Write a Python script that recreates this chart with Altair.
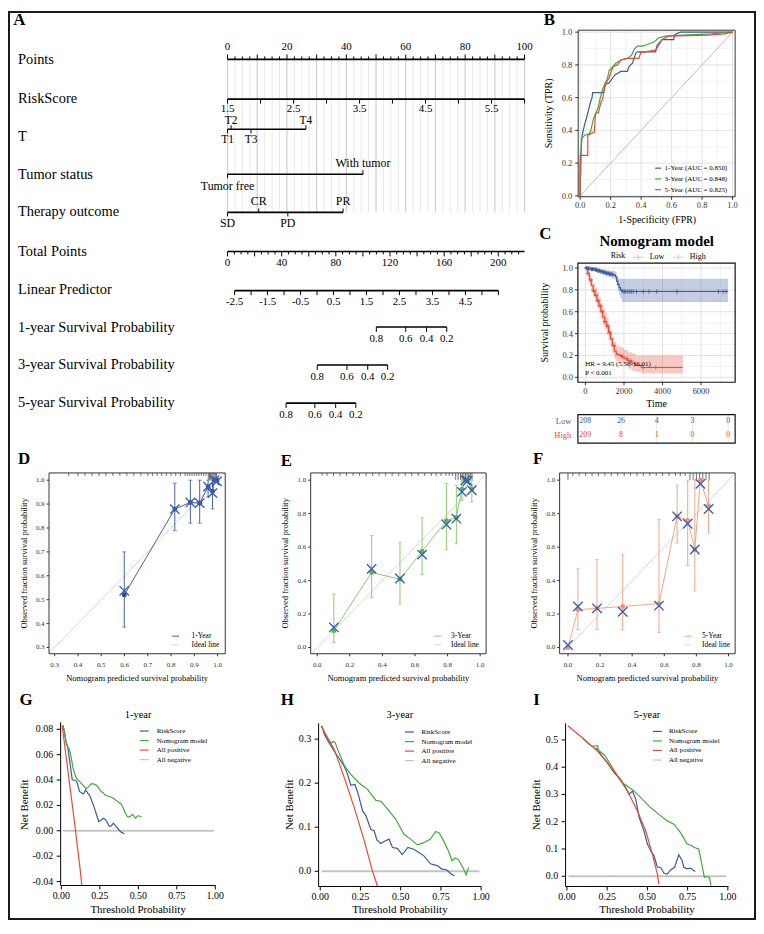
import altair as alt
import pandas as pd

W, H = 753, 915
FONT = "Liberation Serif"
INK = "#000000"
AXC = "#333333"
BLUE = "#3C5A9A"
GREEN = "#43A83B"
RED = "#E64B35"
NEGC = "#C4C4C4"
XCOL = "#3A5FB5"
PLUS = "M-1,0L1,0M0,-1L0,1"
XSHAPE = "M-1,-1L1,1M-1,1L1,-1"
LINECROSS = "M-1,0L1,0M0,-0.45L0,0.45"

ONE = pd.DataFrame({"k": [0]})

# ---------------- data: panel A (nomogram) ----------------
nom_labels = ["Points", "RiskScore", "T", "Tumor status", "Therapy outcome", "Total Points",
              "Linear Predictor", "1-year Survival Probability", "3-year Survival Probability",
              "5-year Survival Probability"]
nom_label_y = [49.3, 88.7, 127.0, 165.3, 202.0, 242.7, 281.0, 318.7, 356.3, 394.3]
nom_line_y = [48.7, 88.7, 119.0, 164.3, 202.7, 242.0, 281.5, 318.0, 356.3, 394.7]

points_major = [0, 10, 20, 30, 40, 50, 60, 70, 80, 90, 100]
points_minor = [v / 2 for v in range(0, 201, 5) if v % 20 != 0]
points_labels = [0, 20, 40, 60, 80, 100]
rs_ticks = [1.5, 2.0, 2.5, 3.0, 3.5, 4.0, 4.5, 5.0, 5.5, 6.0]
rs_labels = ["1.5", "2.5", "3.5", "4.5", "5.5"]
t_levels = ["T1", "T2", "T3", "T4"]
t_points = [0.0, 1.2, 7.9, 26.4]
t_side = [1, -1, 1, -1]
tumor_levels = ["Tumor free", "With tumor"]
tumor_points = [0.0, 45.6]
tumor_side = [1, -1]
therapy_levels = ["SD", "CR", "PD", "PR"]
therapy_points = [0.0, 10.5, 20.3, 38.9]
therapy_side = [1, -1, 1, -1]
tp_max = 219.4
tp_major = [0, 20, 40, 60, 80, 100, 120, 140, 160, 180, 200]
tp_minor = [v for v in range(5, 220, 5) if v % 20 != 0]
tp_labels = ["0", "40", "80", "120", "160", "200"]
lp_ticks = [-2.5, -2.0, -1.5, -1.0, -0.5, 0.0, 0.5, 1.0, 1.5, 2.0, 2.5, 3.0, 3.5, 4.0, 4.5, 5.0, 5.5]
lp_labels = ["-2.5", "-1.5", "-0.5", "0.5", "1.5", "2.5", "3.5", "4.5"]
surv_labels = ["0.8", "0.6", "0.4", "0.2"]
surv1_points = [50.1, 60.0, 67.0, 73.8]
surv3_points = [30.2, 40.2, 47.2, 53.9]
surv5_points = [19.7, 29.4, 36.4, 43.2]

# ---------------- data: panel B (ROC) ----------------
roc_names = ["1-Year (AUC = 0.850)", "3-Year (AUC = 0.848)", "5-Year (AUC = 0.825)"]
roc1_fpr = [0, 0, 0.004, 0.013, 0.028, 0.043, 0.054, 0.067, 0.078, 0.082, 0.154, 0.163, 0.19, 0.213, 0.23,
            0.267, 0.31, 0.32, 0.343, 0.354, 0.364, 0.375, 0.495, 0.505, 0.538, 0.614, 0.62, 0.657, 1.0]
roc1_tpr = [0, 0.17, 0.25, 0.37, 0.43, 0.48, 0.52, 0.57, 0.6, 0.63, 0.63, 0.68, 0.69, 0.72, 0.74,
            0.76, 0.76, 0.79, 0.81, 0.84, 0.87, 0.88, 0.88, 0.92, 0.955, 0.955, 0.985, 1.0, 1.0]
roc3_fpr = [0, 0, 0.004, 0.008, 0.03, 0.06, 0.07, 0.087, 0.1, 0.115, 0.13, 0.147, 0.165, 0.18, 0.19, 0.213,
            0.234, 0.267, 0.31, 0.338, 0.354, 0.375, 0.408, 0.44, 0.484, 0.516, 0.56, 0.668, 0.863, 0.928, 1.0]
roc3_tpr = [0, 0.115, 0.13, 0.35, 0.37, 0.38, 0.4, 0.47, 0.5, 0.53, 0.59, 0.65, 0.69, 0.72, 0.765, 0.79,
            0.81, 0.83, 0.84, 0.86, 0.895, 0.915, 0.915, 0.925, 0.94, 0.966, 0.976, 0.982, 0.99, 0.996, 1.0]
roc5_fpr = [0, 0, 0.05, 0.05, 0.07, 0.093, 0.1, 0.12, 0.136, 0.147, 0.158, 0.17, 0.19, 0.2, 0.217, 0.245,
            0.267, 0.31, 0.386, 0.397, 0.495, 0.516, 0.538, 0.58, 0.84, 0.95, 1.0]
roc5_tpr = [0, 0.247, 0.247, 0.368, 0.38, 0.39, 0.5, 0.51, 0.57, 0.59, 0.65, 0.69, 0.72, 0.75, 0.79, 0.8,
            0.83, 0.84, 0.84, 0.875, 0.89, 0.92, 0.955, 0.976, 0.982, 0.99, 1.0]

# ---------------- data: panel C (KM) ----------------
km_low_t = [0, 150, 300, 450, 600, 750, 900, 1050, 1200, 1350, 1500, 1560, 1620, 1680, 1750, 1820, 1900, 7400]
km_low_s = [1.0, 0.995, 0.99, 0.985, 0.975, 0.968, 0.96, 0.952, 0.945, 0.94, 0.935, 0.92, 0.88, 0.85, 0.82, 0.80, 0.785, 0.785]
km_low_lo = [1.0, 0.985, 0.975, 0.968, 0.955, 0.945, 0.935, 0.925, 0.915, 0.908, 0.9, 0.88, 0.83, 0.79, 0.75, 0.72, 0.69, 0.69]
km_low_hi = [1.0, 1.0, 1.0, 0.998, 0.995, 0.99, 0.985, 0.98, 0.975, 0.972, 0.97, 0.96, 0.93, 0.91, 0.9, 0.9, 0.9, 0.9]
km_high_t = [0, 100, 200, 300, 400, 500, 600, 700, 800, 900, 1000, 1100, 1200, 1300, 1400, 1500, 1600, 1750,
             1900, 2000, 2200, 2400, 2600, 2900, 5050]
km_high_s = [1.0, 0.95, 0.89, 0.84, 0.79, 0.75, 0.70, 0.65, 0.60, 0.55, 0.51, 0.47, 0.41, 0.35, 0.29, 0.24, 0.21, 0.20,
             0.19, 0.17, 0.15, 0.13, 0.11, 0.09, 0.09]
km_high_lo = [1.0, 0.92, 0.85, 0.79, 0.74, 0.69, 0.64, 0.59, 0.53, 0.48, 0.44, 0.39, 0.34, 0.28, 0.22, 0.17, 0.15, 0.13,
              0.12, 0.11, 0.08, 0.06, 0.05, 0.035, 0.035]
km_high_hi = [1.0, 0.98, 0.94, 0.9, 0.86, 0.82, 0.78, 0.73, 0.68, 0.63, 0.59, 0.55, 0.49, 0.43, 0.37, 0.32, 0.29, 0.28,
              0.27, 0.25, 0.23, 0.22, 0.2, 0.2, 0.2]
cens_low_t = [40, 90, 160, 230, 310, 370, 440, 520, 580, 650, 720, 800, 870, 950, 1020, 1100, 1180, 1260, 1330, 1420,
              1950, 2020, 2100, 2200, 2300, 2380, 2480, 2650, 3000, 3300, 3700, 4750, 6900, 7150, 7300]
cens_high_t = [130, 280, 420, 540, 660, 780, 880, 1000, 1130, 1250, 1480, 1900, 2150, 2350, 3000, 3650]
tab_t = [0, 2000, 4000, 6000, 8000]
tab_low = [208, 26, 4, 3, 0]
tab_high = [209, 8, 1, 0, 0]

# ---------------- data: panels D/E/F (calibration) ----------------
d_pred = [0.599, 0.816, 0.883, 0.923, 0.959, 0.978, 0.987, 0.997]
d_obs = [0.52, 0.879, 0.907, 0.904, 0.973, 0.953, 1.0, 1.0]
d_km = [0.537, 0.879, 0.907, 0.904, 0.973, 0.946, 1.0, 0.995]
d_lo = [0.385, 0.789, 0.82, 0.82, 0.93, 0.88, 1.0, 1.0]
d_hi = [0.70, 0.988, 1.0, 1.0, 1.0, 1.0, 1.0, 1.0]
d_rug_s = [0.36, 0.4, 0.43, 0.46, 0.49, 0.52, 0.55, 0.58, 0.61, 0.64, 0.67, 0.7, 0.72, 0.74, 0.76, 0.78, 0.8,
           0.82, 0.84, 0.86, 0.87, 0.88, 0.89, 0.9, 0.91, 0.92, 0.93, 0.94, 0.95]
d_rug_t = [0.96, 0.965, 0.97, 0.975, 0.98, 0.985, 0.99, 0.995]

e_pred = [0.102, 0.334, 0.508, 0.644, 0.793, 0.854, 0.888, 0.909, 0.923, 0.949]
e_obs = [0.10, 0.448, 0.408, 0.576, 0.758, 0.778, 0.947, 1.0, 1.0, 0.947]
e_km = [0.12, 0.47, 0.412, 0.555, 0.735, 0.77, 0.93, 1.0, 0.995, 0.94]
e_lo = [0.03, 0.30, 0.26, 0.435, 0.585, 0.62, 0.88, 1.0, 1.0, 0.87]
e_hi = [0.32, 0.67, 0.63, 0.775, 0.98, 0.97, 1.0, 1.0, 1.0, 1.0]
e_rug_s = [0.03, 0.06, 0.1, 0.14, 0.18, 0.22, 0.26, 0.3, 0.34, 0.38, 0.42, 0.46, 0.5, 0.54, 0.58, 0.62, 0.66,
           0.7, 0.73, 0.76, 0.79, 0.81, 0.83]
e_rug_t = [0.85, 0.865, 0.88, 0.89, 0.9, 0.91, 0.92, 0.93, 0.94, 0.95]

f_pred = [0.0, 0.062, 0.181, 0.341, 0.567, 0.68, 0.746, 0.79, 0.825, 0.876]
f_obs = [0.0, 0.226, 0.234, 0.245, 0.263, 0.784, 0.76, 0.586, 1.0, 0.848]
f_km = [0.015, 0.245, 0.234, 0.214, 0.25, 0.784, 0.74, 0.586, 0.978, 0.828]
f_lo = [0.0, 0.107, 0.107, 0.107, 0.09, 0.625, 0.49, 0.338, 1.0, 0.685]
f_hi = [0.0, 0.47, 0.525, 0.555, 0.766, 0.97, 1.0, 1.0, 1.0, 1.0]
f_rug_s = [0.03, 0.07, 0.11, 0.15, 0.19, 0.23, 0.27, 0.31, 0.35, 0.39, 0.43, 0.47, 0.51, 0.55, 0.59, 0.63,
           0.67, 0.7, 0.73]
f_rug_t = [0.0, 0.76, 0.78, 0.8, 0.82, 0.84, 0.86, 0.88]

# ---------------- data: panels G/H/I (DCA) ----------------
g_rs_t = [0.01, 0.017, 0.03, 0.043, 0.06, 0.071, 0.085, 0.1, 0.118, 0.13, 0.144, 0.157, 0.17, 0.187, 0.209, 0.225,
          0.243, 0.26, 0.273, 0.285, 0.295, 0.312, 0.325, 0.338, 0.35, 0.366, 0.387, 0.409]
g_rs_nb = [0.083, 0.08, 0.07, 0.065, 0.05, 0.04, 0.04, 0.039, 0.031, 0.03, 0.029, 0.032, 0.03, 0.027, 0.02, 0.014,
           0.0073, 0.0085, 0.0099, 0.009, 0.0073, 0.0034, 0.004, 0.006, 0.004, 0.002, -0.001, -0.0023]
g_nm_t = [0.011, 0.02, 0.03, 0.043, 0.055, 0.065, 0.075, 0.086, 0.1, 0.118, 0.14, 0.161, 0.178, 0.194, 0.21, 0.226,
          0.242, 0.258, 0.272, 0.286, 0.31, 0.333, 0.355, 0.376, 0.39, 0.402, 0.415, 0.43, 0.445, 0.462, 0.47,
          0.48, 0.49, 0.5, 0.51, 0.52]
g_nm_nb = [0.083, 0.078, 0.07, 0.066, 0.063, 0.057, 0.05, 0.045, 0.041, 0.039, 0.036, 0.033, 0.035, 0.037, 0.037,
           0.036, 0.034, 0.031, 0.03, 0.028, 0.027, 0.026, 0.024, 0.022, 0.021, 0.018, 0.014, 0.011, 0.011, 0.013,
           0.012, 0.01, 0.011, 0.012, 0.0115, 0.011]
g_all_t = [0.005, 0.04, 0.08, 0.1, 0.12, 0.133]
g_all_nb = [0.083, 0.05, 0.012, -0.008, -0.028, -0.043]
neg_t = [0.01, 0.99]
neg_nb = [0.0, 0.0]

h_rs_t = [0.01, 0.027, 0.05, 0.088, 0.12, 0.15, 0.17, 0.19, 0.216, 0.237, 0.263, 0.284, 0.315, 0.335, 0.352, 0.377,
          0.4, 0.428, 0.449, 0.479, 0.51, 0.545, 0.582, 0.615, 0.644, 0.685, 0.726, 0.757, 0.788, 0.809, 0.833]
h_rs_nb = [0.33, 0.31, 0.295, 0.272, 0.255, 0.238, 0.22, 0.195, 0.197, 0.174, 0.137, 0.126, 0.095, 0.092, 0.071,
           0.063, 0.068, 0.073, 0.054, 0.052, 0.038, 0.054, 0.05, 0.042, 0.035, 0.017, 0.013, 0.005, 0.003, -0.005, -0.01]
h_nm_t = [0.01, 0.027, 0.05, 0.068, 0.08, 0.093, 0.11, 0.13, 0.15, 0.19, 0.243, 0.294, 0.346, 0.377, 0.428, 0.469,
          0.521, 0.562, 0.603, 0.644, 0.685, 0.716, 0.737, 0.767, 0.798, 0.819, 0.84, 0.86, 0.891, 0.907, 0.922]
h_nm_nb = [0.33, 0.313, 0.3, 0.291, 0.295, 0.292, 0.275, 0.257, 0.24, 0.22, 0.2, 0.186, 0.161, 0.159, 0.137, 0.118,
           0.084, 0.073, 0.06, 0.065, 0.073, 0.09, 0.088, 0.069, 0.045, 0.024, 0.03, 0.026, 0.005, -0.008, 0.009]
h_all_t = [0.006, 0.05, 0.088, 0.15, 0.212, 0.274, 0.325, 0.356]
h_all_nb = [0.33, 0.3, 0.276, 0.212, 0.144, 0.069, 0.0, -0.034]

i_rs_t = [0.17, 0.191, 0.212, 0.253, 0.294, 0.335, 0.366, 0.387, 0.407, 0.428, 0.449, 0.479, 0.5, 0.521, 0.541,
          0.562, 0.582, 0.603, 0.623, 0.644, 0.669, 0.695, 0.716, 0.726, 0.747, 0.767, 0.788, 0.798]
i_rs_nb = [0.47, 0.465, 0.445, 0.415, 0.379, 0.354, 0.324, 0.3, 0.312, 0.282, 0.215, 0.166, 0.118, 0.093, 0.075,
           0.033, 0.033, 0.011, 0.008, 0.023, 0.033, 0.079, 0.057, 0.033, 0.027, 0.03, 0.021, 0.018]
i_nm_t = [0.099, 0.134, 0.16, 0.191, 0.195, 0.233, 0.274, 0.315, 0.346, 0.377, 0.418, 0.469, 0.521, 0.572, 0.623,
          0.665, 0.706, 0.747, 0.778, 0.788, 0.819, 0.84, 0.854, 0.87, 0.887, 0.895]
i_nm_nb = [0.506, 0.485, 0.476, 0.479, 0.462, 0.445, 0.407, 0.367, 0.342, 0.33, 0.312, 0.282, 0.251, 0.227, 0.203,
           0.191, 0.16, 0.118, 0.112, 0.106, 0.1, 0.039, -0.004, -0.001, -0.006, -0.034]
i_all_t = [0.006, 0.099, 0.191, 0.253, 0.315, 0.377, 0.438, 0.49, 0.531, 0.562, 0.572]
i_all_nb = [0.552, 0.506, 0.458, 0.415, 0.367, 0.312, 0.239, 0.166, 0.081, 0.008, -0.03]


# ---------------- helpers ----------------
def S(dom, rng):
    return alt.Scale(domain=list(dom), range=list(rng), nice=False, zero=False)


def Xq(f, sc):
    return alt.X(f, scale=sc, axis=None)


def Yq(f, sc):
    return alt.Y(f, scale=sc, axis=None)


def text_at(s, x, y, size, bold=False, align="center", angle=None, color=INK):
    kw = dict(text=s, font=FONT, fontSize=size, align=align, baseline="middle", color=color)
    if bold:
        kw["fontWeight"] = "bold"
    if angle is not None:
        kw["angle"] = angle
    return alt.Chart(ONE).mark_text(**kw).encode(x=alt.value(x), y=alt.value(y))


def frame(l, t, r, b, color="#222222", width=1.0):
    return alt.Chart(ONE).mark_rect(fillOpacity=0, stroke=color, strokeWidth=width).encode(
        x=alt.value(l), x2=alt.value(r), y=alt.value(t), y2=alt.value(b))


def hline(l, r, y, color=INK, width=1.0):
    return alt.Chart(ONE).mark_rule(color=color, strokeWidth=width).encode(
        x=alt.value(l), x2=alt.value(r), y=alt.value(y))


def vline(x, t, b, color=INK, width=1.0):
    return alt.Chart(ONE).mark_rule(color=color, strokeWidth=width).encode(
        x=alt.value(x), y=alt.value(t), y2=alt.value(b))


def axis_x(sc, vals, labs, ybot, size, color=AXC, tick=3, pad=2):
    df = pd.DataFrame({"v": vals, "t": labs})
    return [
        alt.Chart(df).mark_rule(color=color, strokeWidth=1).encode(
            x=Xq("v:Q", sc), y=alt.value(ybot), y2=alt.value(ybot + tick)),
        alt.Chart(df).mark_text(font=FONT, fontSize=size, color=color, baseline="top", align="center").encode(
            x=Xq("v:Q", sc), y=alt.value(ybot + tick + pad), text="t:N"),
    ]


def axis_y(sc, vals, labs, xleft, size, color=AXC, tick=3, pad=2):
    df = pd.DataFrame({"v": vals, "t": labs})
    return [
        alt.Chart(df).mark_rule(color=color, strokeWidth=1).encode(
            y=Yq("v:Q", sc), x=alt.value(xleft - tick), x2=alt.value(xleft)),
        alt.Chart(df).mark_text(font=FONT, fontSize=size, color=color, baseline="middle", align="right").encode(
            y=Yq("v:Q", sc), x=alt.value(xleft - tick - pad), text="t:N"),
    ]


def line_legend(x, y, size, sym, offset, rowpad, stroke=1.0):
    return alt.Legend(orient="none", legendX=x, legendY=y, title=None, symbolType="stroke",
                      symbolSize=sym, symbolStrokeWidth=stroke, labelFont=FONT, labelFontSize=size,
                      labelColor=INK, labelOffset=offset, rowPadding=rowpad, padding=0)


layers = [frame(1, 1, W - 1, H - 1, "#1a1a1a", 2)]

# ---------------- Panel A ----------------
X0, X1 = 221.0, 520.0
pts_sc = S([0, 100], [X0, X1])


def nom_row(y, sc, lo, hi, ticks, labels, lab_size, gap=11.5, gap_up=None, extra=None):
    parts = list(extra or [])
    parts.append(alt.Chart(pd.DataFrame({"a": [lo], "b": [hi]})).mark_rule(color=INK, strokeWidth=1.6)
                 .encode(x=Xq("a:Q", sc), x2=alt.X2("b"), y=alt.value(y)))
    for d in sorted(set(tk[1] for tk in ticks)):
        vs = [tk[0] for tk in ticks if tk[1] == d]
        parts.append(alt.Chart(pd.DataFrame({"v": vs})).mark_rule(color=INK, strokeWidth=1)
                     .encode(x=Xq("v:Q", sc), y=alt.value(y), y2=alt.value(y + d)))
    for side in (-1, 1):
        sub = [(v, t) for v, t, s in labels if s == side]
        if sub:
            g = gap if (side == 1 or gap_up is None) else gap_up
            df = pd.DataFrame({"v": [a for a, _ in sub], "t": [b for _, b in sub]})
            parts.append(alt.Chart(df).mark_text(font=FONT, fontSize=lab_size, baseline="middle",
                                                 align="center", dy=side * g, color=INK)
                         .encode(x=Xq("v:Q", sc), y=alt.value(y), text="t:N"))
    return alt.layer(*parts)


grid_a = [
    alt.Chart(pd.DataFrame({"v": points_minor})).mark_rule(color="#E8E8E8", strokeWidth=1)
    .encode(x=Xq("v:Q", pts_sc), y=alt.value(nom_line_y[0]), y2=alt.value(nom_line_y[4])),
    alt.Chart(pd.DataFrame({"v": points_major})).mark_rule(color="#CFCFCF", strokeWidth=1.2)
    .encode(x=Xq("v:Q", pts_sc), y=alt.value(nom_line_y[0]), y2=alt.value(nom_line_y[4])),
]
layers.append(nom_row(nom_line_y[0], pts_sc, 0, 100,
                      [(v, -5) for v in points_major] + [(v, -3) for v in points_minor],
                      [(v, str(v), -1) for v in points_labels], 11, 12, extra=grid_a))
rs_sc = S([1.5, 6.0], [X0, X1])
layers.append(nom_row(nom_line_y[1], rs_sc, 1.5, 6.0, [(v, 4.5) for v in rs_ticks],
                      [(float(s), s, 1) for s in rs_labels], 11, 9.5))
layers.append(nom_row(nom_line_y[2], pts_sc, 0, max(t_points),
                      [(p, 4 * s) for p, s in zip(t_points, t_side)],
                      [(p, n, s) for p, n, s in zip(t_points, t_levels, t_side)], 11.5, 10.5, gap_up=8))
layers.append(nom_row(nom_line_y[3], pts_sc, 0, max(tumor_points),
                      [(p, 4 * s) for p, s in zip(tumor_points, tumor_side)],
                      [(p, n, s) for p, n, s in zip(tumor_points, tumor_levels, tumor_side)], 12, 11.5))
layers.append(nom_row(nom_line_y[4], pts_sc, 0, max(therapy_points),
                      [(p, 4 * s) for p, s in zip(therapy_points, therapy_side)],
                      [(p, n, s) for p, n, s in zip(therapy_points, therapy_levels, therapy_side)], 12, 11))
tp_sc = S([0, tp_max], [X0, X1])
layers.append(nom_row(nom_line_y[5], tp_sc, 0, tp_max,
                      [(v, 5) for v in tp_major] + [(v, 3) for v in tp_minor],
                      [(float(s), s, 1) for s in tp_labels], 11, 12))
lp_sc = S([-2.5, 5.5], [228.1, 493.7])
layers.append(nom_row(nom_line_y[6], lp_sc, -2.5, 5.5, [(v, 4.5) for v in lp_ticks],
                      [(float(s), s, 1) for s in lp_labels], 11, 11))
for row, pts in ((7, surv1_points), (8, surv3_points), (9, surv5_points)):
    layers.append(nom_row(nom_line_y[row], pts_sc, min(pts), max(pts), [(p, 5) for p in pts],
                          [(p, s, 1) for p, s in zip(pts, surv_labels)], 11, 12))
for lab, y in zip(nom_labels, nom_label_y):
    layers.append(text_at(lab, 10, y, 14.5, align="left"))

# ---------------- Panel B ----------------
b_l, b_t, b_r, b_b = 574.0, 19.3, 732.0, 187.0
bx = S([-0.013, 1.017], [b_l, b_r])
by = S([-0.006, 1.012], [b_b, b_t])
g_major = [0.0, 0.2, 0.4, 0.6, 0.8, 1.0]
g_major_lab = ["0.0", "0.2", "0.4", "0.6", "0.8", "1.0"]
g_minor = [0.1, 0.3, 0.5, 0.7, 0.9]
roc_rows = []
for nm, fp, tp in zip(roc_names, [roc1_fpr, roc3_fpr, roc5_fpr], [roc1_tpr, roc3_tpr, roc5_tpr]):
    for i, (a, b) in enumerate(zip(fp, tp)):
        roc_rows.append({"m": nm, "fpr": a, "tpr": b, "i": i})
roc_df = pd.DataFrame(roc_rows)
layers.append(alt.layer(
    alt.Chart(pd.DataFrame({"v": g_minor})).mark_rule(color="#F0F0F0", strokeWidth=0.8)
    .encode(x=Xq("v:Q", bx), y=alt.value(b_t), y2=alt.value(b_b)),
    alt.Chart(pd.DataFrame({"v": g_major})).mark_rule(color="#E2E2E2", strokeWidth=1)
    .encode(x=Xq("v:Q", bx), y=alt.value(b_t), y2=alt.value(b_b)),
    alt.Chart(pd.DataFrame({"v": g_minor})).mark_rule(color="#F0F0F0", strokeWidth=0.8)
    .encode(y=Yq("v:Q", by), x=alt.value(b_l), x2=alt.value(b_r)),
    alt.Chart(pd.DataFrame({"v": g_major})).mark_rule(color="#E2E2E2", strokeWidth=1)
    .encode(y=Yq("v:Q", by), x=alt.value(b_l), x2=alt.value(b_r)),
    alt.Chart(pd.DataFrame({"x": [0.0, 1.0], "y": [0.0, 1.0]})).mark_line(color="#BDBDBD", strokeWidth=1)
    .encode(x=Xq("x:Q", bx), y=Yq("y:Q", by)),
    alt.Chart(roc_df).mark_line(strokeWidth=1.2).encode(
        x=Xq("fpr:Q", bx), y=Yq("tpr:Q", by),
        color=alt.Color("m:N", scale=alt.Scale(domain=roc_names, range=[BLUE, GREEN, RED]),
                        legend=line_legend(650.5, 154.2, 7, 36, 2.5, 3.8, 1.2)),
        order="i:Q"),
    *axis_x(bx, g_major, g_major_lab, b_b, 8.5, tick=3, pad=1.5),
    *axis_y(by, g_major, g_major_lab, b_l, 8.5, tick=3, pad=3),
))
layers.append(frame(b_l, b_t, b_r, b_b, "#333333", 1))
layers.append(text_at("1-Specificity (FPR)", 653.5, 210.3, 10))
layers.append(text_at("Sensitivity (TPR)", 545, 103, 10, angle=270))

# ---------------- Panel C ----------------
c_l, c_t, c_r, c_b = 573.7, 253.7, 732.0, 373.7
cx = S([-392, 7768], [c_l, c_r])
cy = S([-0.045, 1.045], [c_b, c_t])
km_col = alt.Scale(domain=["Low", "High"], range=[BLUE, RED])
km_leg = alt.Legend(orient="none", legendX=628, legendY=241, title=None, direction="horizontal",
                    symbolType=LINECROSS, symbolSize=121, symbolStrokeWidth=1.1, labelFont=FONT,
                    labelFontSize=8, labelColor=INK, labelOffset=5, columnPadding=5.3, padding=0)


def step_at(ts, ss, t):
    val = ss[0]
    for a, b in zip(ts, ss):
        if a <= t:
            val = b
    return val


km_rows = []
for g, ts, ss, lo, hi in (("Low", km_low_t, km_low_s, km_low_lo, km_low_hi),
                          ("High", km_high_t, km_high_s, km_high_lo, km_high_hi)):
    for a, b, c, d in zip(ts, ss, lo, hi):
        km_rows.append({"g": g, "t": a, "s": b, "lo": c, "hi": d})
km_df = pd.DataFrame(km_rows)
cens_rows = [{"g": "Low", "t": t, "s": step_at(km_low_t, km_low_s, t)} for t in cens_low_t] + \
            [{"g": "High", "t": t, "s": step_at(km_high_t, km_high_s, t)} for t in cens_high_t]
cens_df = pd.DataFrame(cens_rows)
layers.append(alt.layer(
    alt.Chart(pd.DataFrame({"v": [1000, 3000, 5000, 7000]})).mark_rule(color="#F0F0F0", strokeWidth=0.8)
    .encode(x=Xq("v:Q", cx), y=alt.value(c_t), y2=alt.value(c_b)),
    alt.Chart(pd.DataFrame({"v": [0, 2000, 4000, 6000]})).mark_rule(color="#E2E2E2", strokeWidth=1)
    .encode(x=Xq("v:Q", cx), y=alt.value(c_t), y2=alt.value(c_b)),
    alt.Chart(pd.DataFrame({"v": g_minor})).mark_rule(color="#F0F0F0", strokeWidth=0.8)
    .encode(y=Yq("v:Q", cy), x=alt.value(c_l), x2=alt.value(c_r)),
    alt.Chart(pd.DataFrame({"v": g_major})).mark_rule(color="#E2E2E2", strokeWidth=1)
    .encode(y=Yq("v:Q", cy), x=alt.value(c_l), x2=alt.value(c_r)),
    alt.Chart(km_df).mark_area(interpolate="step-after", opacity=0.3).encode(
        x=Xq("t:Q", cx), y=Yq("lo:Q", cy), y2=alt.Y2("hi"),
        color=alt.Color("g:N", scale=km_col, legend=km_leg)),
    alt.Chart(km_df).mark_line(interpolate="step-after", strokeWidth=1.2).encode(
        x=Xq("t:Q", cx), y=Yq("s:Q", cy),
        color=alt.Color("g:N", scale=km_col, legend=km_leg)),
    alt.Chart(cens_df).mark_point(shape=PLUS, filled=False, size=18, strokeWidth=0.9, opacity=1).encode(
        x=Xq("t:Q", cx), y=Yq("s:Q", cy), color=alt.Color("g:N", scale=km_col, legend=km_leg)),
    *axis_x(cx, [0, 2000, 4000, 6000], ["0", "2000", "4000", "6000"], c_b, 8.5, tick=3, pad=2),
    *axis_y(cy, g_major, g_major_lab, c_l, 8.5, tick=3, pad=2),
))
layers.append(frame(c_l, c_t, c_r, c_b, "#111111", 1.2))
layers.append(text_at("Nomogram model", 653, 232, 15, bold=True))
layers.append(text_at("Risk", 614, 247, 8))
layers.append(text_at("HR = 9.45 (5.58-16.01)", 581, 355, 7, align="left"))
layers.append(text_at("P < 0.001", 581, 364.5, 7, align="left"))
layers.append(text_at("Time", 653, 396, 10))
layers.append(text_at("Survival probability", 541, 313.7, 10, angle=270))

# risk table
tb_t, tb_b, tb_low_y, tb_high_y = 406.3, 435.0, 413.0, 426.5
tx = S([-408, 8392], [c_l, c_r])
tab_df = pd.DataFrame({"t": tab_t, "low": [str(v) for v in tab_low], "high": [str(v) for v in tab_high]})
layers.append(alt.layer(
    alt.Chart(tab_df).mark_rule(color="#E8E8E8", strokeWidth=1).encode(
        x=Xq("t:Q", tx), y=alt.value(tb_t), y2=alt.value(tb_b)),
    alt.Chart(tab_df).mark_text(font=FONT, fontSize=8, color=BLUE, baseline="middle").encode(
        x=Xq("t:Q", tx), y=alt.value(tb_low_y), text="low:N"),
    alt.Chart(tab_df).mark_text(font=FONT, fontSize=8, color=RED, baseline="middle").encode(
        x=Xq("t:Q", tx), y=alt.value(tb_high_y), text="high:N"),
))
layers.append(frame(c_l, tb_t, c_r, tb_b, "#111111", 1.2))
layers.append(text_at("Low", 567, tb_low_y, 8.5, align="right", color=BLUE))
layers.append(text_at("High", 567, tb_high_y, 8.5, align="right", color=RED))


# ---------------- Panels D/E/F ----------------
def calib(name, line_col, dot_col, pred, obs, kmv, lo, hi, box, xdom, ydom, ticks, tick_lab, leg_x, leg_off,
          rug_s, rug_t):
    l, t, r, b = box
    sx = S(xdom, [l, r])
    sy = S(ydom, [b, t])
    d0 = max(xdom[0], ydom[0])
    d1 = min(xdom[1], ydom[1])
    col = alt.Scale(domain=[name, "Ideal line"], range=[line_col, "#D6D6D6"])
    leg = line_legend(leg_x, 625.3, 7.5, 49, leg_off, 0.7, 1.0)
    ideal = pd.DataFrame({"m": ["Ideal line", "Ideal line"], "p": [d0, d1], "o": [d0, d1], "i": [0, 1]})
    model = pd.DataFrame({"m": [name] * len(pred), "p": pred, "o": obs, "i": list(range(len(pred)))})
    pts = pd.DataFrame({"p": pred, "o": obs, "k": kmv, "lo": lo, "hi": hi})
    grp = alt.layer(
        alt.Chart(pd.DataFrame({"v": rug_s})).mark_rule(color="#333333", strokeWidth=0.7)
        .encode(x=Xq("v:Q", sx), y=alt.value(t), y2=alt.value(t + 3)),
        alt.Chart(pd.DataFrame({"v": rug_t})).mark_rule(color="#333333", strokeWidth=0.7)
        .encode(x=Xq("v:Q", sx), y=alt.value(t), y2=alt.value(t + 7)),
        alt.Chart(ideal).mark_line(strokeWidth=1).encode(
            x=Xq("p:Q", sx), y=Yq("o:Q", sy), color=alt.Color("m:N", scale=col, legend=leg), order="i:Q"),
        alt.Chart(model).mark_line(strokeWidth=1).encode(
            x=Xq("p:Q", sx), y=Yq("o:Q", sy), color=alt.Color("m:N", scale=col, legend=leg), order="i:Q"),
        alt.Chart(pts).mark_rule(color=line_col, strokeWidth=1).encode(
            x=Xq("p:Q", sx), y=Yq("lo:Q", sy), y2=alt.Y2("hi")),
        alt.Chart(pts).mark_tick(orient="horizontal", size=4, thickness=1, color=line_col).encode(
            x=Xq("p:Q", sx), y=Yq("lo:Q", sy)),
        alt.Chart(pts).mark_tick(orient="horizontal", size=4, thickness=1, color=line_col).encode(
            x=Xq("p:Q", sx), y=Yq("hi:Q", sy)),
        alt.Chart(pts).mark_circle(size=24, color=dot_col, opacity=1).encode(
            x=Xq("p:Q", sx), y=Yq("o:Q", sy)),
        alt.Chart(pts).mark_point(shape=XSHAPE, filled=False, size=90, strokeWidth=1.4, color=XCOL,
                                  opacity=1).encode(x=Xq("p:Q", sx), y=Yq("k:Q", sy)),
        *axis_x(sx, ticks, tick_lab, b, 7, tick=2.5, pad=4.5),
        *axis_y(sy, ticks, tick_lab, l, 7, tick=2.5, pad=2),
    )
    return [grp, frame(l, t, r, b, "#333333", 1)]


ticks_d = [0.3, 0.4, 0.5, 0.6, 0.7, 0.8, 0.9, 1.0]
ticks_d_lab = ["0.3", "0.4", "0.5", "0.6", "0.7", "0.8", "0.9", "1.0"]
ticks_ef = [0.0, 0.2, 0.4, 0.6, 0.8, 1.0]
ticks_ef_lab = ["0.0", "0.2", "0.4", "0.6", "0.8", "1.0"]
layers += calib("1-Year", "#4A62A0", "#2E4A8A", d_pred, d_obs, d_km, d_lo, d_hi,
                (41.3, 465.0, 218.7, 647.0), [0.2757, 1.0328], [0.2738, 1.0303], ticks_d, ticks_d_lab,
                164.7, 12, d_rug_s, d_rug_t)
layers += calib("3-Year", "#8CCB6E", "#5BB548", e_pred, e_obs, e_km, e_lo, e_hi,
                (304.7, 465.0, 481.3, 647.0), [-0.0402, 1.0366], [-0.0374, 1.0433], ticks_ef, ticks_ef_lab,
                428.8, 9.2, e_rug_s, e_rug_t)
layers += calib("5-Year", "#F3A487", "#EE9273", f_pred, f_obs, f_km, f_lo, f_hi,
                (555.3, 465.0, 732.0, 647.0), [-0.052, 1.0415], [-0.0374, 1.0433], ticks_ef, ticks_ef_lab,
                680.5, 10.2, f_rug_s, f_rug_t)
for cxp, cyt in ((130.0, 16.0), (393.0, 279.3), (643.7, 529.7)):
    layers.append(text_at("Nomogram predicted survival probability", cxp, 671, 8.6))
    layers.append(text_at("Observed fraction survival probability", cyt, 556, 8.6, angle=270))

# ---------------- Panels G/H/I ----------------
dca_names = ["RiskScore", "Nomogram model", "All positive", "All negative"]
dca_x = [0.0, 0.25, 0.5, 0.75, 1.0]
dca_x_lab = ["0.00", "0.25", "0.50", "0.75", "1.00"]


def dca(series, box, xdom, ydom, yvals, ylabs, leg_x, leg_y, leg_off):
    l, t, r, b = box
    sx = S(xdom, [l, r])
    sy = S(ydom, [b, t])
    col = alt.Scale(domain=dca_names, range=[BLUE, GREEN, RED, NEGC])
    leg = line_legend(leg_x, leg_y, 7, 81, leg_off, 0.6, 1.2)
    rows = []
    for nm, ts, ns in series:
        for i, (a, c) in enumerate(zip(ts, ns)):
            rows.append({"m": nm, "t": a, "nb": c, "i": i})
    df = pd.DataFrame(rows)
    neg = df[df["m"] == "All negative"]
    rest = df[df["m"] != "All negative"]
    grp = alt.layer(
        alt.Chart(neg).mark_line(strokeWidth=2).encode(
            x=Xq("t:Q", sx), y=Yq("nb:Q", sy), color=alt.Color("m:N", scale=col, legend=leg), order="i:Q"),
        alt.Chart(rest).mark_line(strokeWidth=1.2).encode(
            x=Xq("t:Q", sx), y=Yq("nb:Q", sy), color=alt.Color("m:N", scale=col, legend=leg), order="i:Q"),
        *axis_x(sx, dca_x, dca_x_lab, b, 10, INK, 4, 1.5),
        *axis_y(sy, yvals, ylabs, l, 10, INK, 4, 3.5),
    )
    return [grp, hline(l, r, b), vline(l, t, b)]


layers += dca([("All negative", neg_t, neg_nb), ("RiskScore", g_rs_t, g_rs_nb),
               ("Nomogram model", g_nm_t, g_nm_nb), ("All positive", g_all_t, g_all_nb)],
              (53.0, 716.0, 209.0, 880.3), [-0.0045, 1.002], [-0.0431, 0.0855],
              [-0.04, -0.02, 0.0, 0.02, 0.04, 0.06, 0.08],
              ["-0.04", "-0.02", "0.00", "0.02", "0.04", "0.06", "0.08"], 131.7, 719.3, 7)
layers += dca([("All negative", neg_t, neg_nb), ("RiskScore", h_rs_t, h_rs_nb),
               ("Nomogram model", h_nm_t, h_nm_nb), ("All positive", h_all_t, h_all_nb)],
              (312.7, 717.0, 476.3, 881.3), [-0.01, 1.0], [-0.0345, 0.336],
              [0.0, 0.1, 0.2, 0.3], ["0.0", "0.1", "0.2", "0.3"], 398.7, 720.3, 6.6)
layers += dca([("All negative", neg_t, neg_nb), ("RiskScore", i_rs_t, i_rs_nb),
               ("Nomogram model", i_nm_t, i_nm_nb), ("All positive", i_all_t, i_all_nb)],
              (561.3, 717.0, 725.3, 881.3), [-0.0086, 1.004], [-0.0375, 0.561],
              [0.0, 0.1, 0.2, 0.3, 0.4, 0.5], ["0.0", "0.1", "0.2", "0.3", "0.4", "0.5"], 648.2, 719.7, 6.1)
for title, cxp, cyt in (("1-year", 131.0, 17.0), ("3-year", 394.5, 283.7), ("5-year", 643.3, 533.0)):
    layers.append(text_at(title, cxp, 708.5, 10.5))
    layers.append(text_at("Threshold Probability", cxp, 904.5, 11))
    layers.append(text_at("Net Benefit", cyt, 799, 11, angle=270))

# ---------------- panel letters ----------------
for lt, x, y in (("A", 11.3, 9.5), ("B", 545, 9.5), ("C", 541, 224), ("D", 16.2, 451.2), ("E", 280.3, 452.8),
                 ("F", 533.7, 451.2), ("G", 18.3, 694), ("H", 281.2, 694), ("I", 532, 694)):
    layers.append(text_at(lt, x, y, 17, bold=True))

chart = alt.layer(*layers).properties(width=W, height=H, padding=0, background="white").resolve_scale(
    x="independent", y="independent", color="independent").resolve_axis(
    x="independent", y="independent").resolve_legend(color="independent").configure_view(stroke=None)

chart.save("out.html", embed_options={"renderer": "svg", "actions": False})
